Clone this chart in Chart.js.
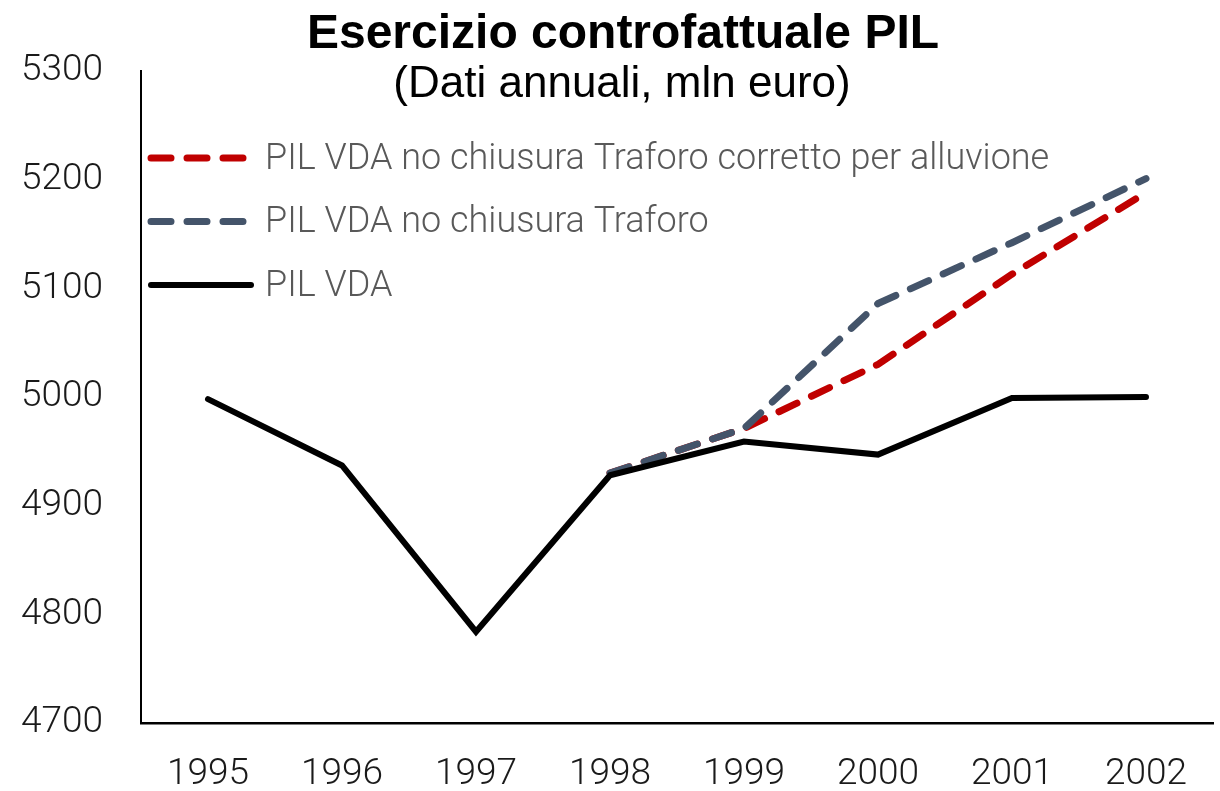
<!DOCTYPE html>
<html>
<head>
<meta charset="utf-8">
<script src="https://cdn.jsdelivr.net/npm/chart.js@4/dist/chart.umd.min.js"></script>
<style>
  html, body { margin: 0; padding: 0; background: #fff; }
  #wrap { width: 1220px; height: 791px; }
</style>
</head>
<body>
<div id="wrap"><canvas id="c" width="1220" height="791"></canvas></div>
<script>
const titleText = 'Esercizio controfattuale PIL';
const subtitleText = '(Dati annuali, mln euro)';
const years = ['1995', '1996', '1997', '1998', '1999', '2000', '2001', '2002'];
const pilVda = [4998, 4937, 4784, 4928, 4959, 4947, 4999, 5000];
const pilNoChiusura = [null, null, null, 4930, 4971, 5086, 5142, 5201];
const pilCorretto = [null, null, null, 4930, 4971, 5030, 5113, 5188];
const yMin = 4700, yMax = 5300, yStep = 100;

const overlay = {
  id: 'overlay',
  afterDraw(chart) {
    const ctx = chart.ctx;
    ctx.save();
    ctx.fillStyle = '#000';
    ctx.textAlign = 'center';
    ctx.textBaseline = 'alphabetic';
    ctx.font = 'bold 48px "Liberation Sans", Arial, sans-serif';
    ctx.fillText(titleText, 623, 48);
    ctx.font = '44px "Liberation Sans", Arial, sans-serif';
    ctx.fillText(subtitleText, 622, 97);
    // legend
    chart.data.datasets.forEach((ds, i) => {
      const ly = 158 + i * 63.5;
      ctx.beginPath();
      ctx.strokeStyle = ds.borderColor;
      ctx.lineWidth = ds.borderWidth;
      ctx.lineCap = 'round';
      ctx.setLineDash(ds.borderDash || []);
      ctx.moveTo(151, ly);
      ctx.lineTo(251, ly);
      ctx.stroke();
      ctx.setLineDash([]);
      ctx.fillStyle = '#595959';
      ctx.textAlign = 'left';
      ctx.font = '300 36px Roboto, sans-serif';
      ctx.fillText(ds.label, 265, ly + 10.5);
    });
    ctx.restore();
  }
};

new Chart(document.getElementById('c'), {
  type: 'line',
  data: {
    labels: years,
    datasets: [
      {
        label: 'PIL VDA no chiusura Traforo corretto per alluvione',
        data: pilCorretto,
        borderColor: '#C00000',
        borderWidth: 7,
        borderDash: [20, 16],
        borderCapStyle: 'round',
        borderJoinStyle: 'round',
        pointRadius: 0,
        tension: 0,
        fill: false,
        order: 2
      },
      {
        label: 'PIL VDA no chiusura Traforo',
        data: pilNoChiusura,
        borderColor: '#44546A',
        borderWidth: 7,
        borderDash: [20, 16],
        borderCapStyle: 'round',
        borderJoinStyle: 'round',
        pointRadius: 0,
        tension: 0,
        fill: false,
        order: 1
      },
      {
        label: 'PIL VDA',
        data: pilVda,
        borderColor: '#000000',
        borderWidth: 6,
        borderCapStyle: 'round',
        borderJoinStyle: 'miter',
        pointRadius: 0,
        tension: 0,
        fill: false,
        order: 0
      }
    ]
  },
  options: {
    responsive: false,
    animation: false,
    events: [],
    layout: { padding: { top: 71, right: 7, bottom: 0, left: 0 } },
    plugins: {
      legend: { display: false },
      title: { display: false },
      tooltip: { enabled: false }
    },
    scales: {
      x: {
        offset: true,
        grid: { display: false, drawTicks: false },
        border: { display: true, color: '#000', width: 2.5 },
        ticks: {
          color: '#1a1a1a',
          font: { family: 'Roboto', weight: '300', size: 37 },
          padding: 30,
          maxRotation: 0,
          autoSkip: false
        },
        afterFit(scale) { scale.height = 68; }
      },
      y: {
        min: yMin,
        max: yMax,
        grid: { display: false, drawTicks: false },
        border: { display: true, color: '#000', width: 2 },
        ticks: {
          stepSize: yStep,
          color: '#1a1a1a',
          font: { family: 'Roboto', weight: '300', size: 37 },
          padding: 38,
          callback: (v) => String(v)
        },
        afterFit(scale) { scale.width = 141; }
      }
    }
  },
  plugins: [overlay]
});
</script>
</body>
</html>
